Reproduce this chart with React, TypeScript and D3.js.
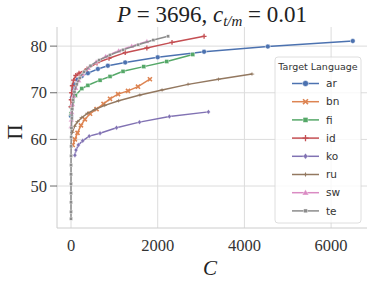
import { useEffect, useRef } from "react";
import * as d3 from "d3";

const languages = ["ar", "bn", "fi", "id", "ko", "ru", "sw", "te"];
const colors = ["#4C72B0", "#DD8452", "#55A868", "#C44E52", "#8172B3", "#937860", "#DA8BC3", "#8C8C8C"];
const markers = ["circle", "x", "square", "plus", "diamond", "star", "triangle", "smallsquare"];

// [C, Pi] pairs
const arData = [[0, 65], [10, 67], [25, 69], [50, 70.5], [90, 71.8], [150, 72.8], [250, 73.6], [390, 74.2], [620, 75.1], [850, 75.8], [1250, 76.5], [2000, 77.6], [3070, 78.8], [4540, 79.9], [6500, 81.1]];
const bnData = [[40, 58.8], [90, 60], [150, 61.4], [230, 63], [320, 64.3], [440, 65.5], [590, 66.5], [750, 67.6], [900, 68.7], [1085, 69.7], [1315, 70.4], [1545, 71.3], [1820, 72.9]];
const fiData = [[0, 65.5], [15, 67], [40, 68.2], [100, 69.4], [250, 70.9], [390, 71.6], [670, 72.7], [900, 73.5], [1200, 74.6], [1680, 75.6], [2210, 76.7], [2810, 78.2]];
const idData = [[0, 67], [5, 68.5], [15, 70], [30, 71.5], [60, 72.7], [110, 73.7], [185, 74.2], [370, 75.1], [600, 76.4], [877, 77.4], [1250, 78.6], [1750, 79.6], [2330, 80.8], [3070, 82.1]];
const koData = [[90, 56.6], [115, 57.7], [170, 58.8], [270, 59.7], [420, 60.7], [670, 61.3], [1050, 62.5], [1580, 63.7], [2270, 64.9], [3170, 65.9]];
const ruData = [[30, 61.5], [80, 62.8], [150, 63.8], [250, 64.7], [380, 65.6], [550, 66.4], [780, 67.3], [1100, 68.3], [1590, 69.5], [2100, 70.6], [2700, 71.8], [3400, 72.9], [4175, 74]];
const swData = [[3, 62.8], [8, 64.2], [18, 65.8], [35, 67.5], [65, 69.3], [110, 71], [180, 72.6], [270, 74], [400, 75.3], [580, 76.6], [800, 77.8], [1100, 79], [1400, 80], [1750, 81]];
const teData = [[0, 43], [0, 44.5], [0, 46.5], [0, 48.5], [0, 50.5], [1, 52.5], [1, 54.5], [2, 56.5], [3, 58.5], [6, 60.5], [10, 62.5], [18, 64.5], [30, 66.5], [50, 68.5], [80, 70.2], [130, 71.8], [200, 73.2], [300, 74.5], [450, 75.8], [650, 77], [900, 78.1], [1200, 79.2], [1550, 80.3], [1900, 81.3], [2240, 82.1]];
const allData = [arData, bnData, fiData, idData, koData, ruData, swData, teData];

const xTicks = [0, 2000, 4000, 6000];
const yTicks = [50, 60, 70, 80];

function drawMarker(g: any, kind: string, x: number, y: number, color: string, s: number) {
  if (kind === "circle") {
    g.append("circle").attr("cx", x).attr("cy", y).attr("r", s * 0.55).attr("fill", color).attr("stroke", "#fff").attr("stroke-width", 0.5);
  } else if (kind === "square" || kind === "smallsquare") {
    const h = kind === "square" ? s * 0.45 : s * 0.35;
    g.append("rect").attr("x", x - h).attr("y", y - h).attr("width", 2 * h).attr("height", 2 * h).attr("fill", color).attr("stroke", "#fff").attr("stroke-width", 0.4);
  } else if (kind === "x") {
    const h = s * 0.45;
    g.append("path").attr("d", `M${x - h},${y - h}L${x + h},${y + h}M${x - h},${y + h}L${x + h},${y - h}`).attr("stroke", color).attr("stroke-width", 1.6);
  } else if (kind === "plus") {
    const h = s * 0.55;
    g.append("path").attr("d", `M${x - h},${y}L${x + h},${y}M${x},${y - h}L${x},${y + h}`).attr("stroke", color).attr("stroke-width", 1.3);
  } else if (kind === "diamond") {
    const h = s * 0.55;
    g.append("path").attr("d", `M${x},${y - h}L${x + h * 0.8},${y}L${x},${y + h}L${x - h * 0.8},${y}Z`).attr("fill", color).attr("stroke", "#fff").attr("stroke-width", 0.4);
  } else if (kind === "star") {
    const h = s * 0.5;
    g.append("path").attr("d", `M${x},${y - h}L${x + h * 0.35},${y}L${x},${y + h}L${x - h * 0.35},${y}Z`).attr("fill", color);
    g.append("path").attr("d", `M${x - h},${y}L${x + h},${y}`).attr("stroke", color).attr("stroke-width", 0.8);
  } else if (kind === "triangle") {
    const h = s * 0.6;
    g.append("path").attr("d", `M${x},${y - h}L${x + h},${y + h * 0.7}L${x - h},${y + h * 0.7}Z`).attr("fill", color).attr("stroke", "#fff").attr("stroke-width", 0.4);
  }
}

function Chart() {
  const ref = useRef<SVGSVGElement>(null);

  useEffect(() => {
    const svg = d3.select(ref.current);
    svg.selectAll("*").remove();

    const x = d3.scaleLinear().domain([-323, 6828]).range([57, 367]);
    const y = d3.scaleLinear().domain([41.0, 84.1]).range([228, 27]);
    const serif = "'Liberation Serif', 'DejaVu Serif', serif";
    const sans = "'DejaVu Sans', sans-serif";

    // grid
    svg.append("g").selectAll("line").data(xTicks).join("line")
      .attr("x1", (d) => x(d)).attr("x2", (d) => x(d)).attr("y1", 27).attr("y2", 228)
      .attr("stroke", "#dcdcdc").attr("stroke-width", 1);
    svg.append("g").selectAll("line").data(yTicks).join("line")
      .attr("x1", 57).attr("x2", 367).attr("y1", (d) => y(d)).attr("y2", (d) => y(d))
      .attr("stroke", "#dcdcdc").attr("stroke-width", 1);

    // spines
    svg.append("line").attr("x1", 57).attr("x2", 57).attr("y1", 27).attr("y2", 228).attr("stroke", "#cccccc");
    svg.append("line").attr("x1", 57).attr("x2", 367).attr("y1", 228).attr("y2", 228).attr("stroke", "#cccccc");

    // y ticks
    const yt = svg.append("g");
    yTicks.forEach((t) => {
      yt.append("line").attr("x1", 50).attr("x2", 57).attr("y1", y(t)).attr("y2", y(t)).attr("stroke", "#444").attr("stroke-width", 0.8);
      yt.append("text").attr("x", 47).attr("y", y(t)).attr("dy", "0.34em").attr("text-anchor", "end")
        .attr("font-family", serif).attr("font-size", 16.5).attr("fill", "#333").text(t);
    });
    const xt = svg.append("g");
    xTicks.forEach((t) => {
      xt.append("text").attr("x", x(t)).attr("y", 251).attr("text-anchor", "middle")
        .attr("font-family", serif).attr("font-size", 16.5).attr("fill", "#333").text(t);
    });

    // axis labels
    svg.append("text").attr("x", 210).attr("y", 275).attr("text-anchor", "middle")
      .attr("font-family", serif).attr("font-style", "italic").attr("font-size", 21).attr("fill", "#222").text("C");
    svg.append("text").attr("transform", "translate(22,132) rotate(-90)").attr("text-anchor", "middle")
      .attr("font-family", serif).attr("font-size", 21).attr("fill", "#222").text("Π");

    // title
    const title = svg.append("text").attr("x", 212).attr("y", 22).attr("text-anchor", "middle")
      .attr("font-family", serif).attr("font-size", 23).attr("fill", "#222");
    title.append("tspan").attr("font-style", "italic").text("P");
    title.append("tspan").text(" = 3696, ");
    title.append("tspan").attr("font-style", "italic").text("c");
    title.append("tspan").attr("font-style", "italic").attr("font-size", 15).attr("dy", 4).text("t/m");
    title.append("tspan").attr("dy", -4).text(" = 0.01");

    // series
    const line = d3.line<number[]>().x((d) => x(d[0])).y((d) => y(d[1]));
    allData.forEach((data, i) => {
      const g = svg.append("g");
      g.append("path").datum(data).attr("d", line).attr("fill", "none")
        .attr("stroke", colors[i]).attr("stroke-width", 1.5);
      data.forEach((d) => drawMarker(g, markers[i], x(d[0]), y(d[1]), colors[i], 4.5));
    });

    // legend
    const lg = svg.append("g");
    lg.append("rect").attr("x", 275).attr("y", 57).attr("width", 86).attr("height", 166).attr("rx", 3)
      .attr("fill", "#fff").attr("fill-opacity", 0.8).attr("stroke", "#d6d6d6").attr("stroke-width", 0.8);
    lg.append("text").attr("x", 318).attr("y", 70).attr("text-anchor", "middle")
      .attr("font-family", sans).attr("font-size", 9.5).attr("fill", "#333").text("Target Language");
    languages.forEach((lang, i) => {
      const ly = 83.5 + i * 18.2;
      lg.append("line").attr("x1", 292).attr("x2", 319).attr("y1", ly).attr("y2", ly)
        .attr("stroke", colors[i]).attr("stroke-width", 1.5);
      drawMarker(lg, markers[i], 305.5, ly, colors[i], 5.5);
      lg.append("text").attr("x", 326).attr("y", ly).attr("dy", "0.35em")
        .attr("font-family", sans).attr("font-size", 10.5).attr("fill", "#333").text(lang);
    });
  }, []);

  return <svg ref={ref} width={374} height={286} style={{ display: "block" }}></svg>;
}

export default function App() {
  return (
    <div style={{ position: "absolute", left: 0, top: 0 }}>
      <Chart />
    </div>
  );
}
